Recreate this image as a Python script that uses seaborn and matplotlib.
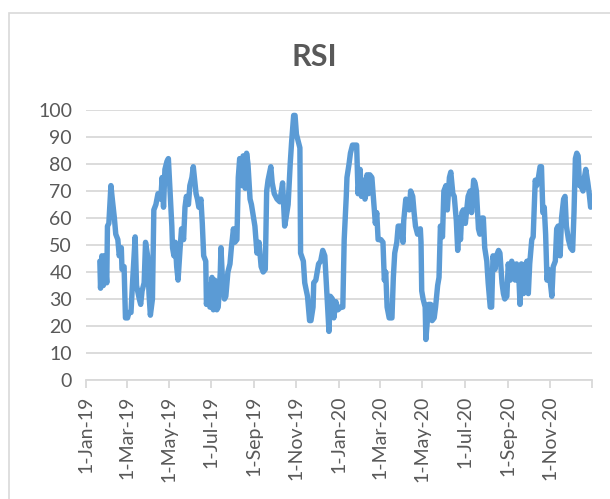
import pandas as pd
import matplotlib
matplotlib.use("Agg")
import matplotlib.pyplot as plt
from matplotlib.patches import Rectangle
import seaborn as sns

# RSI readings, day offsets counted from 1-Jan-2019
start = pd.Timestamp("2019-01-01")
day = [
    20, 21, 23, 25, 27, 30, 31, 33, 36, 38, 41, 43, 46, 48, 51, 52, 55, 57, 60, 62,
    65, 67, 71, 73, 77, 79, 81, 84, 86, 89, 91, 93, 96, 98, 101, 104, 105, 108, 110, 112,
    114, 117, 119,
    124, 125, 127, 129, 131, 133, 136, 138, 141, 143, 145, 148, 150, 153, 155, 157, 159, 161,
    163, 166, 168, 170, 173, 174, 177, 179, 182, 184, 186, 189, 191, 194, 195, 197, 200, 202,
    205, 208, 210, 213, 215, 218, 220, 222, 225, 227, 230, 232, 234, 237, 239,
    244, 247, 250, 253, 256, 259, 261, 263, 267, 269, 272, 276, 280, 284, 287, 289, 292, 295,
    297, 300, 302, 304, 309, 310, 314, 316, 320, 323, 325, 328, 329, 332, 336, 339, 342, 345,
    348, 351, 353, 356, 358, 361, 364, 368, 371, 373, 376, 377, 380, 382, 385, 389, 391, 393,
    396, 398, 401, 403, 406, 408, 410, 413, 415, 418, 420, 422, 426, 429, 431, 433, 435, 438,
    442, 444, 446, 449, 451, 455, 458, 459, 462, 464, 467, 469, 472, 474, 476, 479, 483, 484,
    485, 487, 490, 491, 495,
    498, 500, 503, 505, 508, 510, 512, 515, 517, 520, 522, 525, 527, 530, 532, 535, 537, 539,
    541, 543, 545, 548, 550, 552, 555, 557, 560, 562, 564, 567, 569, 572, 574, 576, 579, 581,
    584, 586, 588, 591, 593, 596, 598, 601, 603, 605, 608, 610, 613, 615, 617, 620, 622, 625,
    627, 629, 632, 634, 637, 639, 641, 644, 646, 649, 651, 653, 656, 658, 660, 662, 664, 666,
    668, 670, 673, 675, 678, 680, 682, 685, 687, 690, 692, 694, 697, 700, 703, 705, 707, 709,
    711, 713, 715, 718, 720, 722, 725, 727, 729,
]
rsi = [
    44, 34, 46, 35, 46, 36, 57, 58, 72, 67, 60, 54, 52, 46, 49, 41, 42, 23, 23, 25,
    25, 35, 53, 35, 30, 28, 33, 36, 51, 46, 32, 24, 30, 63, 65, 69, 69, 67, 75, 64,
    78, 81, 82,
    57, 49, 46, 51, 42, 37, 49, 56, 52, 64, 68, 65, 72, 75, 79, 74, 69, 67,
    64, 67, 58, 46, 44, 28, 35, 27, 38, 26, 37, 26, 27, 40, 49, 38, 30, 31,
    40, 43, 49, 56, 51, 52, 75, 82, 72, 83, 71, 84, 80, 67, 65,
    57, 47, 51, 42, 40, 41, 70, 74, 79, 73, 69, 67, 66, 73, 57, 60, 65, 80,
    88, 98, 98, 91, 86, 47, 44, 36, 31, 22, 22, 27, 36, 37, 43, 44, 48, 46,
    32, 18, 31, 30, 23, 29, 26, 27, 27, 52, 68, 75, 80, 84, 87, 87, 87, 69,
    78, 68, 74, 67, 76, 69, 76, 75, 68, 58, 62, 52, 52, 51, 37, 40, 27, 23,
    23, 38, 47, 51, 57, 57, 51, 59, 67, 64, 63, 70, 68, 62, 57, 54, 56, 51,
    33, 30, 27, 15, 28,
    28, 22, 23, 27, 35, 38, 57, 53, 70, 72, 63, 75, 77, 69, 68, 59, 48, 60,
    52, 62, 63, 58, 63, 68, 70, 62, 74, 73, 70, 56, 54, 60, 60, 49, 44, 36,
    27, 27, 46, 41, 46, 48, 47, 36, 32, 30, 31, 43, 37, 44, 40, 37, 43, 40,
    28, 43, 32, 42, 44, 32, 43, 52, 53, 74, 72, 74, 79, 79, 62, 64, 54, 37,
    41, 38, 31, 42, 44, 56, 57, 46, 60, 67, 68, 57, 52, 49, 48, 62, 82, 84,
    83, 72, 72, 70, 75, 78, 73, 69, 64,
]
tick_dates = pd.date_range("2019-01-01", "2021-01-01", freq="2MS")
tick_labels = [f"{d.day}-{d:%b-%y}" for d in tick_dates[:-1]] + [""]

df = pd.DataFrame({"date": start + pd.to_timedelta(day, unit="D"), "rsi": rsi})

sns.set_style("white")
plt.rcParams["font.family"] = ["Lato", "DejaVu Sans"]
grey = "#595959"
line_grey = "#d9d9d9"

fig = plt.figure(figsize=(6.10, 4.99), dpi=100)
fig.patches.append(Rectangle((9 / 610, -0.2), 1.2, 1.2 - 13 / 499,
                             transform=fig.transFigure, fill=False,
                             edgecolor=line_grey, linewidth=1.2))
ax = fig.add_axes([86 / 610, 1 - 380 / 499, 506 / 610, 270 / 499])

sns.lineplot(data=df, x="date", y="rsi", ax=ax, color="#5B9BD5", linewidth=3.9,
             solid_joinstyle="round", solid_capstyle="round")

ax.set_xlim(tick_dates[0], tick_dates[-1])
ax.set_ylim(0, 100)
ax.set_yticks(range(0, 101, 10))
ax.set_xticks(tick_dates)
ax.set_xticklabels(tick_labels, rotation=90)
ax.set_xlabel("")
ax.set_ylabel("")
ax.grid(axis="y", color=line_grey, linewidth=1.3)
ax.set_axisbelow(True)
for side in ["top", "right", "left"]:
    ax.spines[side].set_visible(False)
ax.spines["bottom"].set_color(line_grey)
ax.spines["bottom"].set_linewidth(1.3)
ax.tick_params(axis="x", length=6, width=1.3, color=line_grey, labelsize=14,
               labelcolor=grey, pad=5, bottom=True)
ax.tick_params(axis="y", length=0, labelsize=14, labelcolor=grey, pad=10)

fig.text(0.516, 1 - 57 / 499, "RSI", ha="center", va="center",
         fontsize=22, fontweight="bold", color=grey)

fig.savefig("out.png", dpi=100)
